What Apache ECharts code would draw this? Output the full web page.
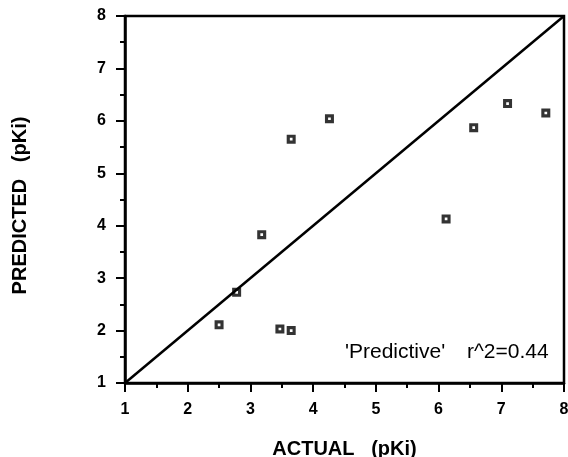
<!DOCTYPE html>
<html>
<head>
<meta charset="utf-8">
<script src="https://cdn.jsdelivr.net/npm/echarts@6/dist/echarts.min.js"></script>
<style>
  html, body { margin: 0; padding: 0; background: #fff; }
  #chart { width: 568px; height: 457px; }
</style>
</head>
<body>
<div id="chart"></div>
<script>
// Measured pKi against model prediction
const actual    = [2.50, 2.78, 3.18, 3.47, 3.65, 3.65, 4.26, 6.12, 6.56, 7.10, 7.71];
const predicted = [2.11, 2.73, 3.83, 2.03, 2.00, 5.65, 6.04, 4.13, 5.87, 6.33, 6.15];
// Identity line endpoints
const identity = [1, 8];
const axisTicks = [1, 2, 3, 4, 5, 6, 7, 8];
const modelLabel = "'Predictive'";
const fitLabel = 'r^2=0.44';

const FONT = '"Liberation Sans", Arial, Helvetica, sans-serif';
const points = actual.map((a, i) => [a, predicted[i]]);
const lineData = identity.map(v => [v, v]);

// Black square marker with a small white hole
const hollowSquare = 'path://M0,0H10V10H0Z M3.5,3.5V6.5H6.5V3.5Z';

const axisCommon = {
  type: 'value',
  min: axisTicks[0],
  max: axisTicks[axisTicks.length - 1],
  interval: 1,
  axisLine: { show: true, lineStyle: { color: '#000', width: 2.5 } },
  axisTick: { show: true, inside: false, length: 9, lineStyle: { color: '#000', width: 2 } },
  minorTick: { show: true, splitNumber: 2, length: 5, lineStyle: { color: '#000', width: 2 } },
  splitLine: { show: false },
  axisLabel: { color: '#000', fontFamily: FONT, fontSize: 16, fontWeight: 'bold', margin: 19 },
  nameLocation: 'middle',
  nameTextStyle: { color: '#000', fontFamily: FONT, fontSize: 20, fontWeight: 'bold' }
};

const chart = echarts.init(document.getElementById('chart'), null, { renderer: 'canvas' });
chart.setOption({
  animation: false,
  backgroundColor: '#fff',
  grid: {
    left: 125, right: 4, top: 16, bottom: 74,
    containLabel: false,
    outerBoundsMode: 'none',
    show: true, borderColor: '#000', borderWidth: 2.5, backgroundColor: 'transparent'
  },
  xAxis: Object.assign({}, axisCommon, {
    name: 'ACTUAL   (pKi)',
    nameGap: 56
  }),
  yAxis: Object.assign({}, axisCommon, {
    name: 'PREDICTED   (pKi)',
    nameGap: 95,
    nameRotate: 90,
    nameTextStyle: Object.assign({}, axisCommon.nameTextStyle, { padding: [0, 12, 0, 0] })
  }),
  series: [
    {
      type: 'line',
      data: lineData,
      symbol: 'none',
      lineStyle: { color: '#000', width: 2.5 },
      silent: true,
      z: 2
    },
    {
      type: 'scatter',
      data: points,
      symbol: hollowSquare,
      symbolSize: 9,
      itemStyle: { color: '#000' },
      z: 3
    }
  ],
  graphic: [
    {
      type: 'text',
      left: 345,
      top: 342,
      style: { text: modelLabel, fill: '#000', font: 'normal 21px ' + FONT }
    },
    {
      type: 'text',
      left: 467,
      top: 342,
      style: { text: fitLabel, fill: '#000', font: 'normal 21px ' + FONT }
    }
  ]
});
</script>
</body>
</html>
